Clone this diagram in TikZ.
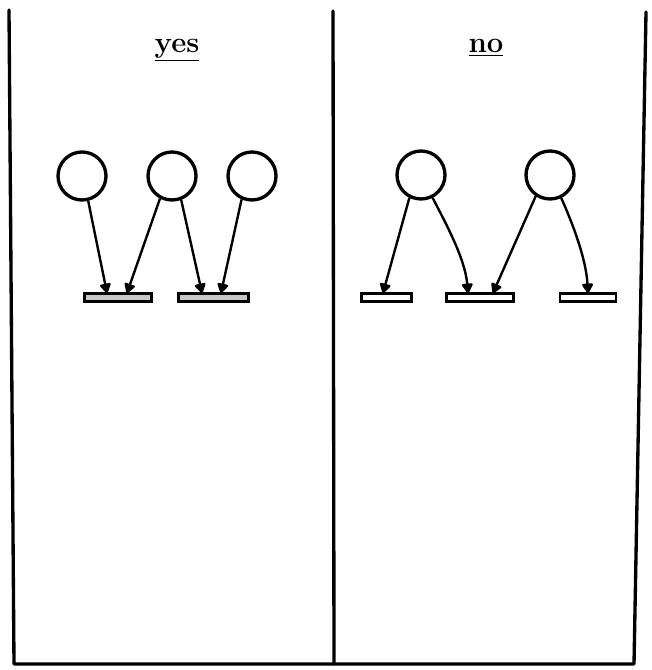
\documentclass[tikz,border=0pt]{standalone}
\usetikzlibrary{arrows.meta}
\begin{document}
\begin{tikzpicture}[x=0.75pt,y=-0.75pt,
  frame/.style={line width=2.5pt,line cap=round,line join=round},
  place/.style={circle,draw,line width=2.5pt,minimum size=36pt,inner sep=0pt},
  barY/.style={rectangle,draw,line width=2.2pt,fill=gray!45,minimum height=6pt,inner sep=0pt},
  barN/.style={rectangle,draw,line width=2.2pt,fill=white,minimum height=6pt,inner sep=0pt},
  arr/.style={line width=1.8pt,-{Triangle[length=8pt,width=9pt,round]}},
  head/.style={font=\fontsize{22}{26}\selectfont\bfseries,anchor=base,inner sep=0pt}]
\useasboundingbox (0,0) rectangle (652,670);
% frame
\coordinate (tl) at (9,10);
\coordinate (bl) at (14,664);
\coordinate (tm) at (333,11);
\coordinate (bm) at (334,664);
\coordinate (tr) at (646,12);
\coordinate (br) at (634,664);
\draw[frame] (tl) -- (bl) -- (br) -- (tr);
\draw[frame] (tm) -- (bm);
% headings
\node[head] (yes) at (177,53) {\underline{yes}};
\node[head] (no) at (486,53) {\underline{no}};
% yes panel
\node[place] (c1) at (82,176) {};
\node[place] (c2) at (172,176) {};
\node[place] (c3) at (252,176) {};
\node[barY,minimum width=50pt] (b1) at (118,297.5) {};
\node[barY,minimum width=52pt] (b2) at (213.5,297.5) {};
\coordinate (t1) at (107,293);
\coordinate (t2) at (127,293);
\coordinate (t3) at (202,293);
\coordinate (t4) at (221,293);
\draw[arr] (c1.-76) -- (t1);
\draw[arr] (c2.-118) -- (t2);
\draw[arr] (c2.-69) -- (t3);
\draw[arr] (c3.-114) -- (t4);
% no panel
\node[place] (cA) at (421,175) {};
\node[place] (cB) at (550,175) {};
\node[barN,minimum width=37pt] (n1) at (386.5,297.5) {};
\node[barN,minimum width=50pt] (n2) at (480,297.5) {};
\node[barN,minimum width=42pt] (n3) at (588,297.5) {};
\coordinate (s1) at (383,293);
\coordinate (s2) at (468,293);
\coordinate (s3) at (493,293);
\coordinate (s4) at (588,293);
\draw[arr] (cA.-117) -- (s1);
\draw[arr] (cA.-63) .. controls (445,222) and (465,258) .. (s2);
\draw[arr] (cB.-124) -- (s3);
\draw[arr] (cB.-64) .. controls (572,222) and (586,258) .. (s4);
\end{tikzpicture}
\end{document}
